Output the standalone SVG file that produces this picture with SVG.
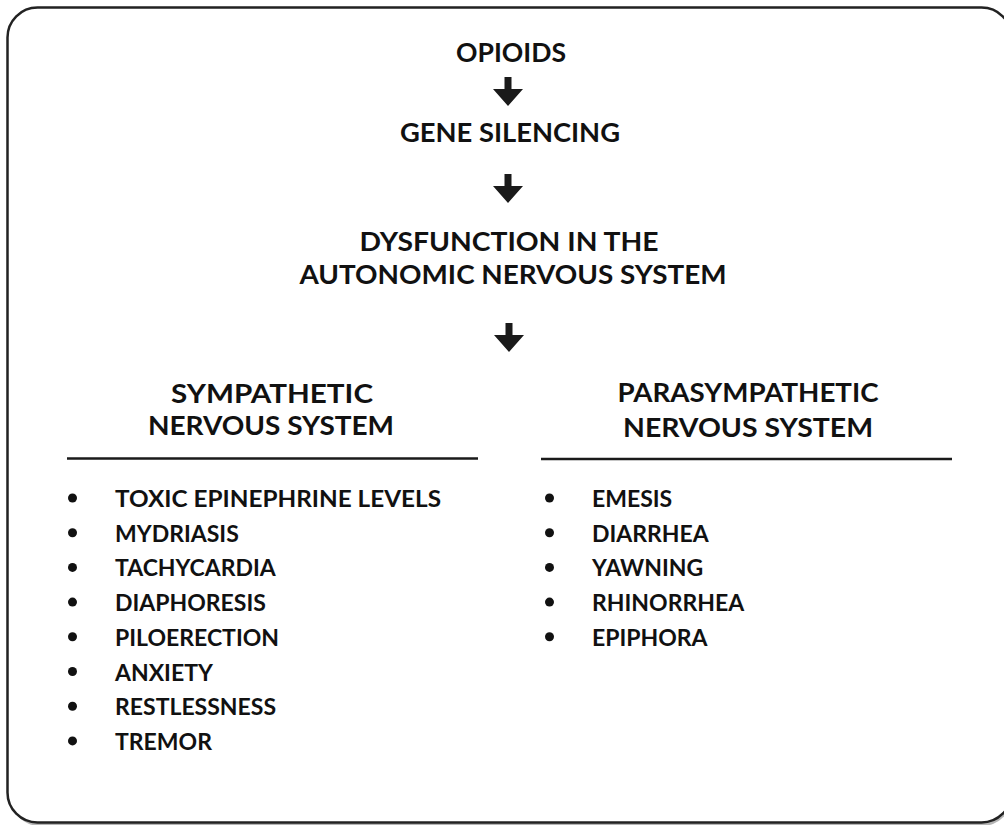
<svg xmlns="http://www.w3.org/2000/svg" width="1004" height="825" viewBox="0 0 1004 825">
<style>
.h{font-family:Lato,"Open Sans","Liberation Sans",sans-serif;font-weight:700;font-size:26px;fill:#111;text-anchor:middle}
.b{font-family:Lato,"Open Sans","Liberation Sans",sans-serif;font-weight:700;font-size:23px;fill:#111}
.rule{stroke:#1a1a1a;stroke-width:2.5;fill:none}
.dot{fill:#111}
.arr{fill:#1a1a1a}
</style>
<defs>
<path id="arrow" d="M-3.5,0 H3.5 V12 H15 L0,29 L-15,12 H-3.5 Z"/>
</defs>
<rect x="10" y="10" width="1002" height="816" rx="30" fill="#b5b5b5"/>
<rect x="7.5" y="7.5" width="1004" height="815" rx="30" fill="#fff" stroke="#222" stroke-width="2.5"/>
<g id="connectors">
<use href="#arrow" class="arr" x="508" y="77"/>
<use href="#arrow" class="arr" x="508" y="174"/>
<use href="#arrow" class="arr" x="509" y="323"/>
</g>
<g id="opioids"><text class="h" x="511" y="62" textLength="110" lengthAdjust="spacingAndGlyphs">OPIOIDS</text></g>
<g id="gene-silencing"><text class="h" x="510" y="142" textLength="220" lengthAdjust="spacingAndGlyphs">GENE SILENCING</text></g>
<g id="dysfunction"><text class="h" x="509" y="251" textLength="299" lengthAdjust="spacingAndGlyphs">DYSFUNCTION IN THE</text><text class="h" x="513" y="284" textLength="427" lengthAdjust="spacingAndGlyphs">AUTONOMIC NERVOUS SYSTEM</text></g>
<g id="sympathetic">
<text class="h" x="272" y="403" textLength="202" lengthAdjust="spacingAndGlyphs">SYMPATHETIC</text>
<text class="h" x="271" y="435" textLength="246" lengthAdjust="spacingAndGlyphs">NERVOUS SYSTEM</text>
<line class="rule" x1="67" y1="458.5" x2="478" y2="458.5"/>
<circle class="dot" cx="72.5" cy="498" r="4.5"/><text class="b" x="115" y="507" textLength="326" lengthAdjust="spacingAndGlyphs">TOXIC EPINEPHRINE LEVELS</text>
<circle class="dot" cx="72.5" cy="532.7" r="4.5"/><text class="b" x="115" y="541.7">MYDRIASIS</text>
<circle class="dot" cx="72.5" cy="567.4" r="4.5"/><text class="b" x="115" y="576.4">TACHYCARDIA</text>
<circle class="dot" cx="72.5" cy="602.1" r="4.5"/><text class="b" x="115" y="611.1">DIAPHORESIS</text>
<circle class="dot" cx="72.5" cy="636.8" r="4.5"/><text class="b" x="115" y="645.8">PILOERECTION</text>
<circle class="dot" cx="72.5" cy="671.5" r="4.5"/><text class="b" x="115" y="680.5">ANXIETY</text>
<circle class="dot" cx="72.5" cy="706.2" r="4.5"/><text class="b" x="115" y="715.2">RESTLESSNESS</text>
<circle class="dot" cx="72.5" cy="740.9" r="4.5"/><text class="b" x="115" y="749.9">TREMOR</text>
</g>
<g id="parasympathetic">
<text class="h" x="748" y="402" textLength="261" lengthAdjust="spacingAndGlyphs">PARASYMPATHETIC</text>
<text class="h" x="748" y="437" textLength="250" lengthAdjust="spacingAndGlyphs">NERVOUS SYSTEM</text>
<line class="rule" x1="541" y1="459" x2="952" y2="459"/>
<circle class="dot" cx="549.5" cy="498" r="4.5"/><text class="b" x="592" y="507">EMESIS</text>
<circle class="dot" cx="549.5" cy="532.7" r="4.5"/><text class="b" x="592" y="541.7">DIARRHEA</text>
<circle class="dot" cx="549.5" cy="567.4" r="4.5"/><text class="b" x="592" y="576.4">YAWNING</text>
<circle class="dot" cx="549.5" cy="602.1" r="4.5"/><text class="b" x="592" y="611.1">RHINORRHEA</text>
<circle class="dot" cx="549.5" cy="636.8" r="4.5"/><text class="b" x="592" y="645.8">EPIPHORA</text>
</g>
</svg>
